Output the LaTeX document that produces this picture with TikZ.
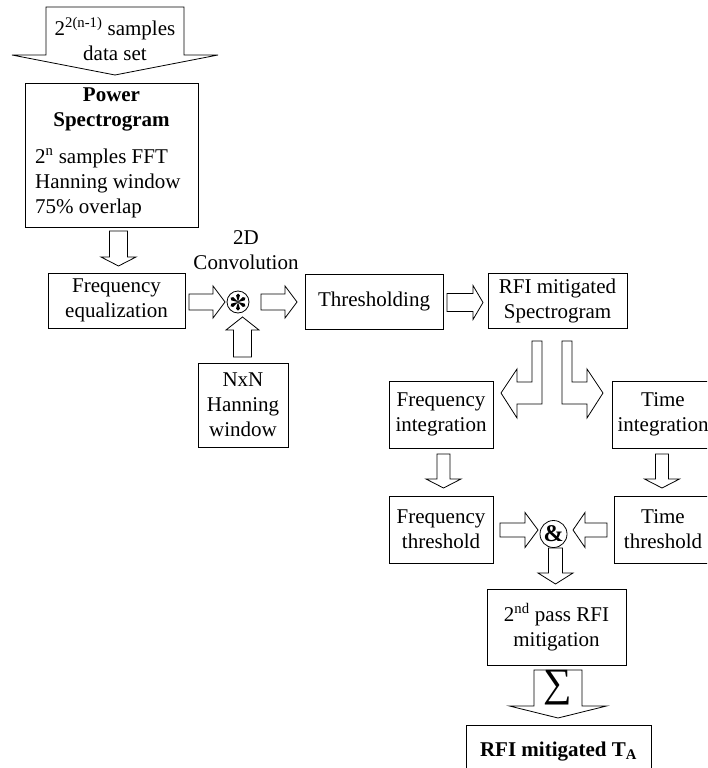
\documentclass[tikz,border=0pt]{standalone}
\usepackage{fontspec}
\setmainfont{Liberation Serif}
% vertical block arrow: centre x, start y, head base y, tip y, shaft half width, head half width
\newcommand{\vblk}[6]{\draw[blk] ({#1-#5},#2) -- ({#1+#5},#2) -- ({#1+#5},#3) -- ({#1+#6},#3) -- (#1,#4) -- ({#1-#6},#3) -- ({#1-#5},#3) -- cycle;}
% horizontal block arrow: centre y, start x, head base x, tip x, shaft half height, head half height
\newcommand{\hblk}[6]{\draw[blk] (#2,{#1-#5}) -- (#2,{#1+#5}) -- (#3,{#1+#5}) -- (#3,{#1+#6}) -- (#4,#1) -- (#3,{#1-#6}) -- (#3,{#1-#5}) -- cycle;}
\begin{document}
\begin{tikzpicture}[x=1pt,y=-1pt,
  box/.style={draw, line width=0.8pt, inner sep=0pt, align=center, font=\fontsize{21}{25}\selectfont},
  lbl/.style={inner sep=0pt, align=center, font=\fontsize{21}{25}\selectfont},
  blk/.style={draw, fill=white, line width=0.8pt, line join=miter},
  opcircle/.style={draw, circle, line width=0.8pt, inner sep=0pt}]
\clip (0,0) rectangle (707,768);

% input data block arrow
\vblk{115}{7}{55}{75}{69}{103}
\node[lbl] (src) at (115,39) {2\textsuperscript{2(n-1)} samples\\data set};

% power spectrogram
\node[box, minimum width=173pt, minimum height=144pt] (ps) at (111.5,155) {};
\node[lbl, font=\bfseries\fontsize{21}{25}\selectfont] (pstitle) at (111.5,109) {Power\\Spectrogram};
\node[lbl, anchor=west, align=left] (psinfo) at (35,183) {2\textsuperscript{n} samples FFT\\Hanning window\\75\% overlap};

% first row
\node[box, minimum width=137pt, minimum height=55pt] (fe) at (116.5,300.5) {Frequency\\equalization};
\node[opcircle, minimum size=22pt] (conv) at (238,302) {};
% convolution sign: six teardrop spokes
\begin{scope}[shift={(conv.center)}]
  \foreach \a in {0,60,...,300}
    \fill[rotate=\a] (0,0) -- (-1.9,-6.6) arc[start angle=180, end angle=360, radius=1.9] -- cycle;
\end{scope}
\node[lbl] (convlbl) at (246,250) {2D\\Convolution};
\node[box, minimum width=138pt, minimum height=55pt] (thr) at (374,301.5) {Thresholding};
\node[box, minimum width=139pt, minimum height=55pt] (rfi) at (557.5,300.5) {RFI mitigated\\Spectrogram};
\node[box, minimum width=90pt, minimum height=84pt] (nxn) at (243,405) {NxN\\Hanning\\window};

\vblk{118.5}{231}{257}{266}{9}{17.5}
\hblk{302}{189}{213}{225}{8}{16}
\hblk{302}{261}{285}{297}{8}{16}
\vblk{242.5}{357}{330}{317}{9}{16.5}
\hblk{302.5}{447}{473}{483}{9}{17}

% split into frequency and time branches
\draw[blk] (532,341) -- (542,341) -- (542,404) -- (517,404) -- (517,418) -- (501,393) -- (517,369) -- (517,382) -- (532,382) -- cycle;
\draw[blk] (572,341) -- (562,341) -- (562,404) -- (587,404) -- (587,418) -- (603,393) -- (587,369) -- (587,382) -- (572,382) -- cycle;

\node[box, minimum width=104pt, minimum height=67pt] (fi) at (441,414.5) {Frequency\\integration};
\node[box, minimum width=102pt, minimum height=67pt] (ti) at (663,414.5) {Time\\integration};
\node[box, minimum width=104pt, minimum height=67pt] (ft) at (441,529.5) {Frequency\\threshold};
\node[box, minimum width=98pt, minimum height=67pt] (tt) at (663,529.5) {Time\\threshold};

\vblk{443.5}{454}{479}{488}{6.5}{17.5}
\vblk{662}{454}{479}{488}{6.5}{17.5}

% combination
\node[opcircle, minimum size=27pt, font=\bfseries\fontsize{24}{24}\selectfont] (amp) at (553.5,534) {\&};
\hblk{530}{500}{525}{538}{7}{17.5}
\hblk{530}{607}{585}{573}{7}{17.5}
\vblk{555.5}{548}{573}{584}{7}{17.5}

\node[box, minimum width=139pt, minimum height=76pt] (snd) at (556.5,627) {2\textsuperscript{nd} pass RFI\\mitigation};

% integration to antenna temperature
\vblk{558}{670}{706}{718}{24}{48.5}
\node[inner sep=0pt, font=\fontsize{40}{40}\selectfont] (sig) at (558,688) {∑};
\node[box, minimum width=185pt, minimum height=53pt, font=\bfseries\fontsize{21}{25}\selectfont] (ta) at (558.5,751.5) {RFI mitigated T\textsubscript{A}};
\end{tikzpicture}
\end{document}
